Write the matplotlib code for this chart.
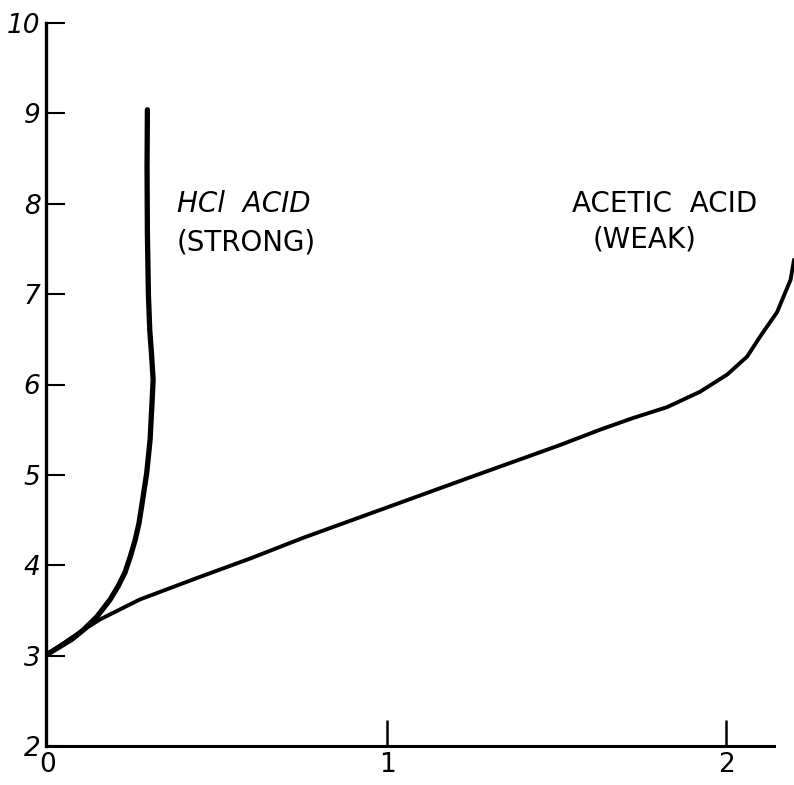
import matplotlib
matplotlib.use("Agg")
import matplotlib.pyplot as plt

# Data (x, pH)
hcl_x = [0.0, 0.035, 0.07, 0.103, 0.144, 0.183, 0.207, 0.227, 0.243, 0.257, 0.268, 0.276,
         0.291, 0.301, 0.306, 0.31, 0.305, 0.30, 0.296, 0.293, 0.292, 0.293]
hcl_y = [3.02, 3.10, 3.18, 3.28, 3.43, 3.62, 3.77, 3.92, 4.10, 4.28, 4.46, 4.65,
         5.02, 5.39, 5.75, 6.05, 6.35, 6.60, 7.00, 7.68, 8.40, 9.04]

acetic_x = [0.0, 0.07, 0.153, 0.27, 0.44, 0.60, 0.75, 1.00, 1.25, 1.51, 1.628, 1.726, 1.826,
            1.923, 2.003, 2.062, 2.10, 2.15, 2.19, 2.20]
acetic_y = [3.02, 3.20, 3.40, 3.62, 3.86, 4.08, 4.30, 4.64, 4.98, 5.33, 5.50, 5.63, 5.75,
            5.92, 6.11, 6.31, 6.53, 6.80, 7.16, 7.38]

yticks = [2, 3, 4, 5, 6, 7, 8, 9, 10]
xticks = [0, 1, 2]
hcl_label = ["HCl  ACID", "(STRONG)"]
acetic_label = ["ACETIC  ACID", "(WEAK)"]

W, H = 794, 785
fig = plt.figure(figsize=(W / 100, H / 100), dpi=100)
left, right = 46 / W, 794 / W
bottom, top = (H - 746) / H, (H - 23) / H
ax = fig.add_axes([left, bottom, right - left, top - bottom])

ax.set_xlim(-0.006, 2.2)
ax.set_ylim(2, 10)

ax.plot(hcl_x, hcl_y, color="black", lw=3.8, solid_capstyle="round", solid_joinstyle="round")
ax.plot(acetic_x, acetic_y, color="black", lw=2.8, solid_capstyle="round", solid_joinstyle="round")

for s in ["top", "right"]:
    ax.spines[s].set_visible(False)
ax.spines["left"].set_linewidth(2.4)
ax.spines["bottom"].set_linewidth(2.2)
ax.spines["left"].set_bounds(2, 10)
ax.spines["bottom"].set_bounds(0, 2.14)

ax.set_yticks(yticks)
ax.set_yticklabels([str(v) for v in yticks], fontsize=19, style="italic")
ax.tick_params(axis="y", direction="in", length=14, width=1.5, pad=4)

ax.set_xticks(xticks)
ax.set_xticklabels([str(v) for v in xticks], fontsize=19)
ax.tick_params(axis="x", direction="in", length=19, width=1.8, pad=4)
ax.xaxis.get_major_ticks()[0].tick1line.set_visible(False)

ax.text(0.38, 8.0, hcl_label[0], fontsize=20, ha="left", va="center", style="italic")
ax.text(0.38, 7.57, hcl_label[1], fontsize=20, ha="left", va="center")
ax.text(1.545, 8.0, acetic_label[0], fontsize=20, ha="left", va="center")
ax.text(1.605, 7.6, acetic_label[1], fontsize=20, ha="left", va="center")

fig.savefig("out.png", dpi=100)
